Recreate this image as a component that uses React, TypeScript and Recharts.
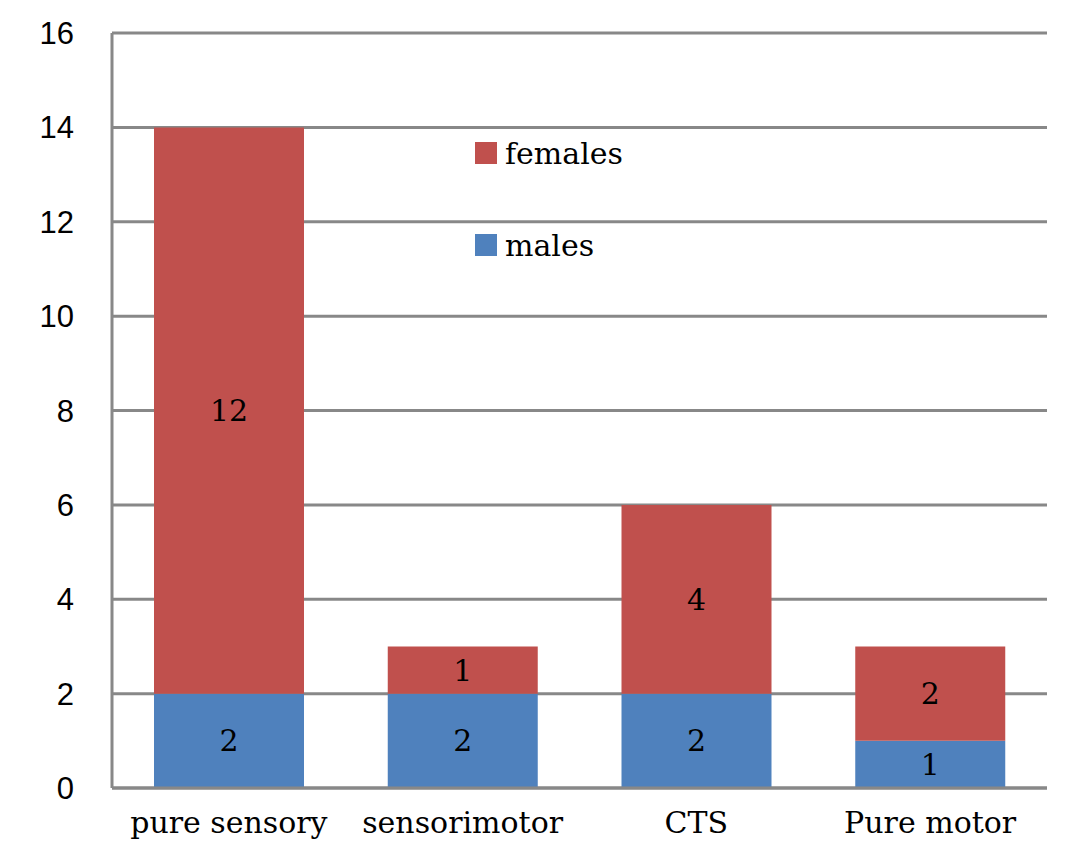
import { BarChart, Bar, XAxis, YAxis, CartesianGrid, LabelList } from "recharts";

const categories = ["pure sensory", "sensorimotor", "CTS", "Pure motor"];
const males = [2, 2, 2, 1];
const females = [12, 1, 4, 2];
const yTicks = [0, 2, 4, 6, 8, 10, 12, 14, 16];

const data = categories.map((name, i) => ({ name, males: males[i], females: females[i] }));

const FONT = "'DejaVu Serif', 'Liberation Serif', serif";
const SANS = "'Liberation Sans', Arial, sans-serif";

const legendItems = [
  { label: "females", color: "#C0504D", top: 131 },
  { label: "males", color: "#4F81BD", top: 223 },
];

export default function App() {
  return (
    <div style={{ position: "absolute", left: 0, top: 0, width: 1073, height: 867, background: "#fff" }}>
      <BarChart
        width={1073}
        height={867}
        data={data}
        margin={{ top: 33, right: 26, left: 0, bottom: 0 }}
        barSize={150}
      >
        <CartesianGrid vertical={false} stroke="#888" strokeWidth={3} />
        <XAxis
          dataKey="name"
          height={79}
          axisLine={{ stroke: "#888", strokeWidth: 3 }}
          tickLine={false}
          tick={{ fontFamily: FONT, fontSize: 30, fill: "#000" }}
          tickMargin={18}
        />
        <YAxis
          width={112}
          domain={[0, 16]}
          ticks={yTicks}
          interval={0}
          axisLine={{ stroke: "#888", strokeWidth: 3 }}
          tickLine={false}
          tick={{ fontFamily: SANS, fontSize: 31, fill: "#000" }}
          tickMargin={32}
        />
        <Bar dataKey="males" stackId="a" fill="#4F81BD" isAnimationActive={false}>
          <LabelList dataKey="males" position="center" fill="#000" fontSize={30} fontFamily={FONT} />
        </Bar>
        <Bar dataKey="females" stackId="a" fill="#C0504D" isAnimationActive={false}>
          <LabelList dataKey="females" position="center" fill="#000" fontSize={30} fontFamily={FONT} />
        </Bar>
      </BarChart>
      {legendItems.map((it) => (
        <div
          key={it.label}
          style={{
            position: "absolute",
            left: 475,
            top: it.top,
            display: "flex",
            alignItems: "center",
            height: 44,
            fontFamily: FONT,
            fontSize: 30,
            color: "#000",
          }}
        >
          <span style={{ width: 22, height: 22, background: it.color, marginRight: 8, display: "inline-block" }} />
          {it.label}
        </div>
      ))}
    </div>
  );
}
